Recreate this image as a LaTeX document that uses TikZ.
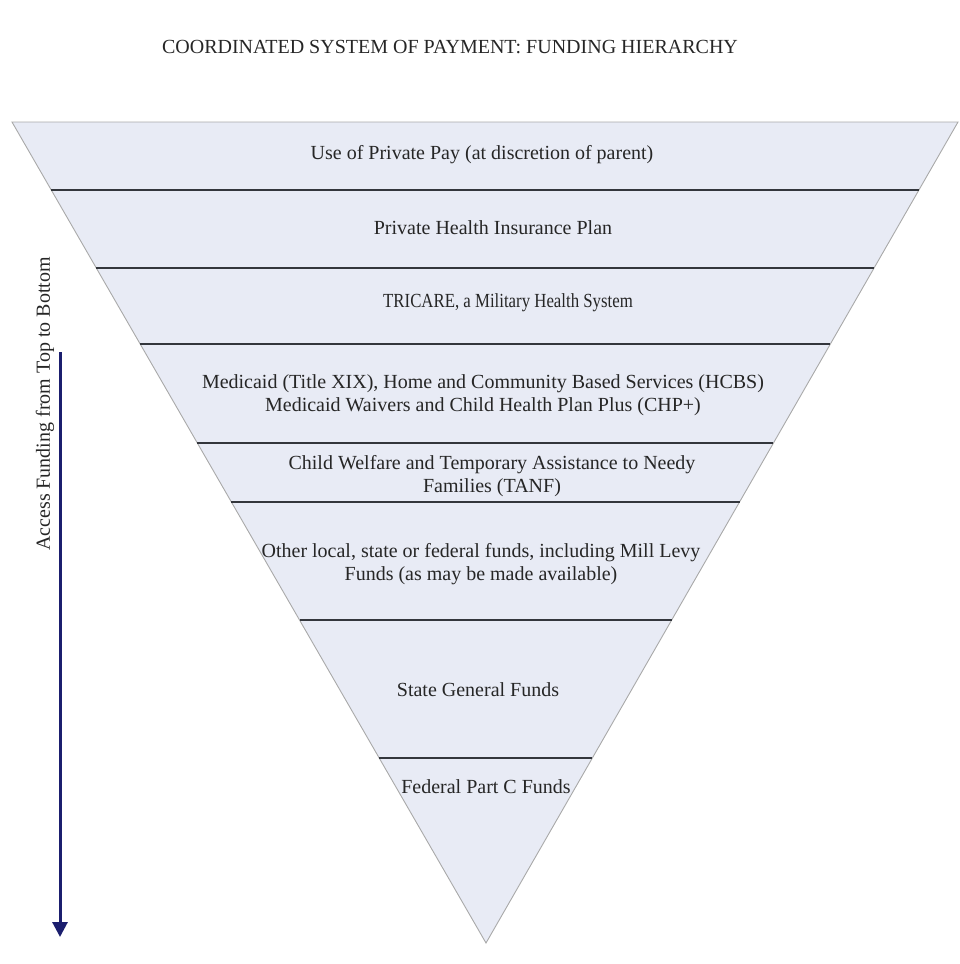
\documentclass[tikz,border=0pt]{standalone}
\usepackage{fontspec}
\setmainfont{Liberation Serif}
\usetikzlibrary{arrows.meta,positioning,calc}
\definecolor{FundFill}{HTML}{E8EBF5}
\definecolor{FundEdge}{HTML}{A9A9A9}
\definecolor{FundRule}{HTML}{33363C}
\definecolor{FundArrow}{HTML}{1B1E6E}
\tikzset{
  funnel/.style={fill=FundFill, draw=FundEdge, line width=0.9pt, line join=miter},
  tier/.style={draw=FundRule, line width=2.2pt},
  tiertext/.style={align=center, inner sep=0pt, font=\fontsize{20}{23}\selectfont, text=black!85},
  access/.style={-{Triangle[length=15pt,width=15pt]}, line width=3pt, draw=FundArrow},
}

\begin{document}
\begin{tikzpicture}[x=1pt,y=-1pt]
  \useasboundingbox (0,0) rectangle (959,964);
  \node[tiertext] (title) at (450,47)
    {COORDINATED SYSTEM OF PAYMENT: FUNDING HIERARCHY};

  % the funnel and the lines between its tiers
  \coordinate (tl) at (12,122);
  \coordinate (tr) at (958,122);
  \coordinate (tip) at (486,943);
  \draw[funnel] (tl) -- (tr) -- (tip) -- cycle;
  \foreach \y in {190,268,344,443,502,620,758}
    \draw[tier] ($(tl)!{(\y-122)/821}!(tip)$) -- ($(tr)!{(\y-122)/821}!(tip)$);

  \node[tiertext] (private) at (482,155) {Use of Private Pay (at discretion of parent)};
  \node[tiertext] (insurance) at (493,228) {Private Health Insurance Plan};
  \node[tiertext] (tricare) at (508,303) {\scalebox{0.84}[1]{TRICARE, a Military Health System}};
  \node[tiertext] (medicaid) at (483,395) {Medicaid (Title XIX), Home and Community Based Services (HCBS)\\
    Medicaid Waivers and Child Health Plan Plus (CHP+)};
  \node[tiertext] (welfare) at (492,476) {Child Welfare and Temporary Assistance to Needy\\Families (TANF)};
  \node[tiertext] (local) at (481,564) {Other local, state or federal funds, including Mill Levy\\
    Funds (as may be made available)};
  \node[tiertext] (general) at (478,690) {State General Funds};
  \node[tiertext] (partc) at (486,787) {Federal Part C Funds};

  % reading direction, down the left side
  \node[tiertext, rotate=90] (access) at (45,404) {Access Funding from Top to Bottom};
  \coordinate (accesstop) at (60,352);
  \coordinate (accessend) at (60,937);
  \draw[access] (accesstop) -- (accessend);
\end{tikzpicture}
\end{document}
